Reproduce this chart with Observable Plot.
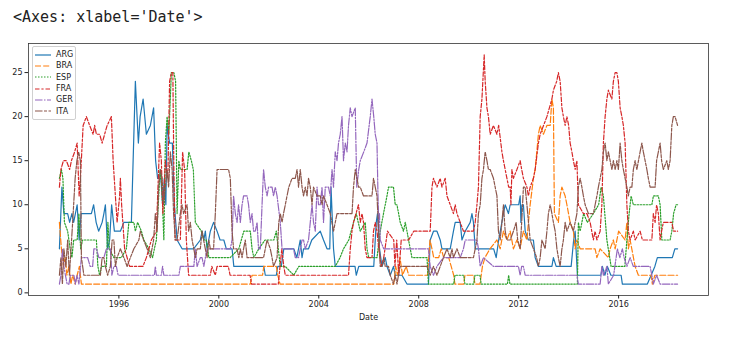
<!DOCTYPE html>
<html>
<head>
<meta charset="utf-8">
<script src="https://cdn.jsdelivr.net/npm/d3@7"></script>
<script src="https://cdn.jsdelivr.net/npm/@observablehq/plot@0.6"></script>
<style>
  html, body { margin: 0; padding: 0; background: #fff; }
  #wrap { position: relative; width: 742px; height: 340px; overflow: hidden; }
  #head { height: 34px; box-sizing: border-box; padding: 8px 0 0 13px; font: 15px "DejaVu Sans Mono", monospace; color: #222; white-space: pre; }
  #legend { position: absolute; left: 32px; top: 46px; width: 42px; background: rgba(255,255,255,0.8); border: 1px solid #d0d0d0; border-radius: 2px; padding: 2px 0 2px 0; font: 8px "DejaVu Sans", sans-serif; color: #222; }
  #legend .row { display: flex; align-items: center; height: 11.3px; }
  #legend svg { margin-left: 2px; margin-right: 5px; }
</style>
</head>
<body>
<div id="wrap">
  <div id="head">&lt;Axes: xlabel='Date'&gt;</div>
  <div id="chart"></div>
  <div id="legend"></div>
</div>
<script>
// ---- data: [decimal year, FIFA rank] ----
const countries = ["ARG", "BRA", "ESP", "FRA", "GER", "ITA"];
const xTicks = [1996, 2000, 2004, 2008, 2012, 2016];
const yTicks = [0, 5, 10, 15, 20, 25];

const ARG = [[1993.62,5],[1993.72,12],[1993.8,9],[1993.95,9],[1994.03,8],[1994.12,9],[1994.19,8],[1994.33,10],[1994.41,6],[1994.49,9],[1994.9,9],[1994.99,10],[1995.09,8],[1995.19,7],[1995.33,8],[1995.4,9],[1995.46,10],[1995.55,5],[1995.63,6],[1995.71,10],[1995.82,7],[1996.06,7],[1996.2,8],[1996.5,8],[1996.66,24],[1996.78,17],[1996.85,20],[1996.97,22],[1997.1,18],[1997.26,19],[1997.39,21],[1997.47,15],[1997.55,13],[1997.68,13],[1997.75,10],[1997.82,13],[1997.88,10],[1997.93,19],[1998.03,17],[1998.14,17],[1998.22,10],[1998.33,6],[1998.53,5],[1998.99,5],[1999.26,6],[1999.33,7],[1999.4,6],[1999.46,7],[1999.53,5],[1999.66,7],[1999.79,8],[1999.93,7],[2000.05,6],[2000.2,6],[2000.3,5],[2000.53,5],[2000.6,3],[2001.8,3],[2001.86,2],[2002.3,2],[2002.36,3],[2002.5,3],[2002.6,5],[2003.0,5],[2003.12,4],[2003.19,5],[2003.26,6],[2003.33,4],[2003.39,5],[2003.59,5],[2003.72,6],[2004.06,7],[2004.19,6],[2004.33,5],[2004.44,5],[2004.49,12],[2004.59,5],[2004.66,3],[2005.45,3],[2005.5,2],[2005.6,3],[2006.2,3],[2006.3,8],[2006.35,9],[2006.43,5],[2006.53,3],[2006.66,4],[2006.73,3],[2006.86,2],[2006.99,3],[2007.06,2],[2007.33,2],[2007.53,1],[2008.39,1],[2008.46,6],[2008.59,7],[2008.73,7],[2008.86,6],[2008.93,5],[2009.26,5],[2009.39,7],[2009.46,8],[2009.66,8],[2009.73,6],[2009.86,7],[2010.06,8],[2010.13,9],[2010.19,8],[2010.26,5],[2011.0,5],[2011.1,4],[2011.2,6],[2011.39,9],[2011.46,10],[2011.59,9],[2011.66,10],[2012.0,10],[2012.06,11],[2012.09,8],[2012.13,10],[2012.19,10],[2012.26,7],[2012.39,6],[2012.59,6],[2012.66,4],[2012.79,3],[2013.33,3],[2013.39,4],[2013.5,3],[2014.1,3],[2014.2,6],[2014.26,7],[2014.35,2],[2015.29,2],[2015.35,3],[2015.45,2],[2015.55,3],[2015.69,2],[2016.1,2],[2016.15,1],[2017.15,1],[2017.3,2],[2017.45,3],[2017.55,4],[2018.15,4],[2018.25,5],[2018.36,5]];

const BRA = [[1993.62,8],[1993.7,5],[1993.78,3],[1993.85,4],[1993.92,2],[1994.0,3],[1994.08,1],[1994.15,2],[1994.25,1],[1994.33,2],[1994.42,3],[1994.5,1],[2001.26,1],[2001.33,2],[2001.75,2],[2001.8,3],[2002.3,3],[2002.36,2],[2002.45,1],[2007.0,1],[2007.08,3],[2007.15,2],[2007.25,4],[2007.35,2],[2007.5,3],[2007.6,2],[2008.35,2],[2008.45,6],[2008.53,5],[2008.6,4],[2008.8,4],[2008.9,5],[2009.0,4],[2009.2,4],[2009.3,3],[2009.4,2],[2009.45,1],[2009.8,1],[2009.85,2],[2010.2,2],[2010.25,1],[2010.45,1],[2010.55,3],[2010.65,4],[2010.85,5],[2011.13,6],[2011.26,5],[2011.39,7],[2011.53,6],[2011.66,7],[2011.79,5],[2011.93,6],[2012.06,5],[2012.12,6],[2012.19,7],[2012.33,6],[2012.39,8],[2012.46,10],[2012.59,13],[2012.66,14],[2012.79,18],[2012.86,19],[2012.99,18],[2013.13,19],[2013.26,19],[2013.33,22],[2013.39,21],[2013.43,9],[2013.59,8],[2013.66,11],[2013.73,12],[2013.86,11],[2013.93,10],[2014.06,8],[2014.19,7],[2014.26,5],[2014.33,6],[2014.46,5],[2015.06,5],[2015.13,4],[2015.26,5],[2015.59,4],[2015.66,5],[2015.79,6],[2015.86,5],[2016.0,7],[2016.26,6],[2016.33,8],[2016.39,5],[2016.46,6],[2016.66,3],[2016.79,2],[2017.3,2],[2017.35,1],[2017.45,2],[2018.36,2]];

const ESP = [[1993.62,13],[1993.7,14],[1993.76,13],[1993.82,8],[1993.95,7],[1994.05,5],[1994.12,4],[1994.19,6],[1994.33,6],[1994.4,9],[1994.47,5],[1994.55,6],[1995.1,6],[1995.16,3],[1995.23,2],[1995.3,3],[1995.5,3],[1995.56,8],[1995.62,5],[1995.8,4],[1996.1,4],[1996.3,5],[1996.4,8],[1996.6,8],[1996.66,7],[1996.75,8],[1996.9,7],[1997.0,6],[1997.2,5],[1997.35,4],[1997.42,5],[1997.5,6],[1997.65,14],[1997.72,12],[1997.8,6],[1997.86,17],[1997.93,20],[1998.0,18],[1998.1,25],[1998.2,25],[1998.27,24],[1998.33,9],[1998.4,15],[1998.46,14],[1998.73,14],[1998.8,16],[1998.9,15],[1998.98,14],[1999.06,8],[1999.3,7],[1999.4,6],[1999.5,6],[1999.6,4],[2000.45,4],[2000.8,5],[2000.9,6],[2001.0,7],[2001.26,7],[2001.33,5],[2001.4,4],[2001.6,5],[2001.85,6],[2002.2,6],[2002.3,7],[2002.46,3],[2002.66,3],[2003.0,2],[2003.2,3],[2004.66,3],[2004.85,4],[2004.99,5],[2005.2,6],[2005.39,8],[2005.5,9],[2005.66,7],[2005.86,8],[2005.93,5],[2006.0,4],[2006.33,4],[2006.46,7],[2006.59,9],[2006.73,11],[2006.79,12],[2006.99,12],[2007.06,10],[2007.13,10],[2007.26,8],[2007.39,7],[2007.46,8],[2007.53,7],[2007.66,5],[2007.73,4],[2008.33,4],[2008.39,1],[2009.4,1],[2009.45,2],[2009.8,2],[2009.85,1],[2010.2,1],[2010.25,2],[2010.45,2],[2010.5,1],[2011.55,1],[2011.6,2],[2011.65,1],[2014.35,1],[2014.39,8],[2014.46,7],[2014.6,9],[2014.75,8],[2014.99,9],[2015.2,10],[2015.3,12],[2015.39,11],[2015.53,6],[2015.7,3],[2016.25,3],[2016.33,6],[2016.42,9],[2016.5,11],[2016.59,10],[2017.33,10],[2017.39,11],[2017.59,11],[2017.66,10],[2017.73,6],[2018.06,6],[2018.13,7],[2018.2,9],[2018.3,10],[2018.36,10]];

const FRA = [[1993.62,12],[1993.68,14],[1993.78,15],[1993.9,15],[1994.03,14],[1994.1,15],[1994.23,16],[1994.33,17],[1994.41,11],[1994.46,13],[1994.57,19],[1994.7,20],[1994.83,19],[1994.97,18],[1995.03,19],[1995.1,18],[1995.23,18],[1995.33,17],[1995.43,18],[1995.53,19],[1995.7,20],[1995.77,15],[1995.86,11],[1995.93,8],[1996.03,11],[1996.06,13],[1996.11,10],[1996.23,5],[1996.43,3],[1996.96,3],[1997.1,4],[1997.3,6],[1997.5,7],[1997.63,17],[1997.7,15],[1997.76,9],[1997.86,15],[1997.9,14],[1997.96,13],[1998.03,24],[1998.1,25],[1998.16,25],[1998.2,14],[1998.25,6],[1998.46,6],[1998.55,16],[1998.63,14],[1998.7,6],[1998.79,2],[1999.66,2],[1999.72,3],[1999.86,2],[1999.93,3],[2000.38,3],[2000.45,2],[2001.25,2],[2001.31,1],[2002.38,1],[2002.45,3],[2002.52,5],[2002.6,3],[2002.66,2],[2005.19,2],[2005.26,5],[2005.33,7],[2005.39,8],[2005.59,10],[2005.66,8],[2005.73,9],[2005.79,8],[2005.86,5],[2005.93,4],[2006.13,4],[2006.19,7],[2006.26,8],[2006.33,7],[2006.4,5],[2006.5,3],[2006.6,4],[2006.75,7],[2007.0,6],[2007.05,3],[2007.12,6],[2007.2,2],[2007.3,6],[2007.6,6],[2007.8,7],[2008.46,7],[2008.53,12],[2008.59,13],[2008.73,12],[2008.86,13],[2008.93,12],[2009.06,13],[2009.13,11],[2009.26,10],[2009.39,9],[2009.46,10],[2009.53,9],[2009.66,8],[2009.79,7],[2010.19,7],[2010.26,8],[2010.33,10],[2010.39,12],[2010.46,20],[2010.53,22],[2010.62,27],[2010.66,24],[2010.73,21],[2010.79,20],[2010.86,18],[2010.99,19],[2011.13,18],[2011.2,19],[2011.33,16],[2011.39,15],[2011.46,14],[2011.53,13],[2011.6,12],[2011.66,12],[2011.69,10],[2011.73,14],[2011.79,13],[2011.93,14],[2012.06,15],[2012.12,14],[2012.19,13],[2012.33,12],[2012.39,11],[2012.46,12],[2012.59,13],[2012.66,14],[2012.79,17],[2012.86,18],[2013.13,20],[2013.33,22],[2013.39,23],[2013.52,24],[2013.59,25],[2013.66,24],[2013.73,21],[2013.79,20],[2013.86,19],[2013.93,20],[2014.0,19],[2014.06,17],[2014.13,16],[2014.19,15],[2014.26,14],[2014.33,15],[2014.39,10],[2014.59,9],[2014.73,9],[2014.86,8],[2014.99,6],[2015.06,7],[2015.13,6],[2015.26,7],[2015.33,10],[2015.39,17],[2015.46,20],[2015.53,22],[2015.59,23],[2015.73,22],[2015.79,24],[2015.86,25],[2015.93,25],[2015.99,24],[2016.06,21],[2016.13,20],[2016.19,19],[2016.26,17],[2016.33,10],[2016.39,7],[2016.46,6],[2016.59,7],[2016.66,6],[2016.86,7],[2016.95,6],[2017.33,6],[2017.39,9],[2017.46,8],[2017.52,10],[2017.59,9],[2017.66,6],[2017.72,7],[2017.79,8],[2018.13,8],[2018.2,7],[2018.36,7]];

const GER = [[1993.62,1],[1993.68,2],[1993.74,5],[1993.8,3],[1993.86,2],[1993.93,1],[1994.0,1],[1994.06,2],[1994.2,2],[1994.26,1],[1994.33,2],[1994.4,1],[1994.5,4],[1994.75,4],[1994.85,3],[1994.95,3],[1995.0,5],[1995.1,5],[1995.2,4],[1995.4,4],[1995.5,5],[1995.66,5],[1995.72,2],[1995.8,3],[1995.9,3],[1995.97,2],[1997.42,2],[1997.46,3],[1997.5,2],[1997.7,2],[1997.75,3],[1997.8,2],[1998.4,2],[1998.46,3],[1999.0,3],[1999.06,5],[1999.13,3],[1999.26,4],[1999.33,4],[1999.4,3],[1999.46,4],[1999.53,5],[2000.46,5],[2000.53,6],[2000.59,11],[2000.66,9],[2000.73,8],[2000.79,10],[2000.86,8],[2000.93,10],[2000.99,11],[2001.13,11],[2001.19,10],[2001.26,8],[2001.33,9],[2001.39,7],[2001.46,7],[2001.53,8],[2001.59,5],[2001.66,5],[2001.73,10],[2001.79,14],[2001.86,12],[2001.93,11],[2001.99,12],[2002.13,12],[2002.19,11],[2002.26,12],[2002.33,11],[2002.46,8],[2002.53,5],[2002.99,5],[2003.06,4],[2003.19,4],[2003.33,6],[2003.39,6],[2003.46,5],[2003.59,6],[2003.66,8],[2003.73,10],[2003.79,8],[2003.86,7],[2003.93,12],[2003.99,10],[2004.06,10],[2004.13,12],[2004.19,8],[2004.26,12],[2004.39,12],[2004.46,11],[2004.53,14],[2004.59,12],[2004.66,16],[2004.73,15],[2004.79,17],[2004.86,18],[2004.93,20],[2004.99,15],[2005.06,17],[2005.13,16],[2005.19,19],[2005.26,21],[2005.33,20],[2005.46,21],[2005.52,12],[2005.6,14],[2005.66,15],[2005.8,16],[2005.93,17],[2006.06,20],[2006.13,22],[2006.2,20],[2006.26,18],[2006.33,17],[2006.37,11],[2006.4,8],[2006.43,9],[2006.46,6],[2006.6,5],[2008.39,5],[2008.46,3],[2008.59,2],[2008.73,3],[2008.99,4],[2009.66,4],[2009.79,5],[2009.86,6],[2010.33,6],[2010.39,5],[2010.46,3],[2010.59,4],[2010.99,3],[2011.99,3],[2012.06,2],[2012.12,3],[2012.19,3],[2012.26,2],[2014.33,2],[2014.39,1],[2015.26,1],[2015.33,3],[2015.39,2],[2015.53,3],[2015.59,1],[2015.8,2],[2015.9,4],[2015.95,5],[2016.05,4],[2016.15,5],[2016.22,4],[2016.33,3],[2016.46,4],[2016.59,3],[2017.26,3],[2017.33,2],[2017.39,1],[2017.52,2],[2017.66,1],[2018.36,1]];

const ITA = [[1993.62,2],[1993.68,4],[1993.74,1],[1993.8,5],[1993.88,3],[1993.95,6],[1994.02,2],[1994.15,8],[1994.25,13],[1994.32,15],[1994.39,16],[1994.46,15],[1994.5,4],[1994.6,2],[1995.26,2],[1995.33,4],[1995.4,4],[1995.46,3],[1995.55,2],[1995.66,3],[1995.73,6],[1995.8,6],[1995.86,3],[1995.93,4],[1996.06,5],[1996.2,4],[1996.33,3],[1996.46,4],[1996.6,5],[1996.8,6],[1996.86,7],[1996.99,6],[1997.13,5],[1997.26,4],[1997.39,6],[1997.46,9],[1997.53,7],[1997.59,12],[1997.66,14],[1997.73,13],[1997.79,10],[1997.93,14],[1997.99,12],[1998.06,16],[1998.13,14],[1998.19,9],[1998.26,6],[1998.33,6],[1998.46,9],[1998.53,10],[1998.59,9],[1998.73,10],[1998.79,7],[1998.86,8],[1998.93,6],[1999.0,5],[1999.06,4],[1999.13,5],[1999.26,5],[1999.33,7],[1999.39,6],[1999.46,5],[1999.53,4],[1999.6,6],[1999.66,5],[1999.79,5],[1999.86,9],[1999.93,14],[2000.39,14],[2000.46,13],[2000.53,7],[2000.59,5],[2000.73,5],[2000.8,4],[2000.86,5],[2000.93,4],[2000.99,5],[2001.06,6],[2001.13,4],[2001.79,4],[2001.86,5],[2001.93,6],[2002.06,5],[2002.13,4],[2002.19,3],[2002.33,4],[2002.4,8],[2002.46,9],[2002.53,8],[2002.59,9],[2002.66,10],[2002.73,11],[2002.8,12],[2002.93,13],[2003.06,13],[2003.13,14],[2003.19,12],[2003.26,14],[2003.33,12],[2003.39,11],[2003.46,12],[2003.53,11],[2003.59,13],[2003.66,12],[2003.73,10],[2003.79,12],[2003.93,11],[2004.06,11],[2004.13,10],[2004.19,11],[2004.33,10],[2004.46,9],[2004.59,7],[2004.73,9],[2005.33,9],[2005.39,12],[2005.46,14],[2005.53,13],[2005.59,12],[2005.66,12],[2005.79,11],[2006.13,11],[2006.19,13],[2006.26,12],[2006.33,11],[2006.38,8],[2006.43,5],[2006.46,3],[2006.53,3],[2006.6,4],[2006.66,3],[2006.79,3],[2006.86,2],[2006.99,1],[2007.06,2],[2007.13,1],[2007.19,2],[2007.26,3],[2008.33,3],[2008.46,2],[2008.59,3],[2008.73,2],[2008.86,3],[2008.99,4],[2009.13,5],[2009.26,4],[2009.33,5],[2009.39,4],[2009.53,5],[2009.66,4],[2010.19,4],[2010.26,5],[2010.33,6],[2010.39,9],[2010.46,10],[2010.53,13],[2010.59,14],[2010.66,16],[2010.73,15],[2010.79,14],[2010.86,14],[2010.99,13],[2011.06,12],[2011.13,11],[2011.19,7],[2011.26,6],[2011.33,8],[2011.39,10],[2011.46,7],[2011.53,6],[2011.66,6],[2011.79,7],[2011.9,8],[2011.96,6],[2012.06,5],[2012.12,8],[2012.19,12],[2012.26,12],[2012.33,10],[2012.46,6],[2012.59,5],[2012.72,4],[2012.79,3],[2012.86,4],[2012.93,6],[2013.06,5],[2013.13,7],[2013.19,9],[2013.26,10],[2013.33,9],[2013.39,8],[2013.46,7],[2013.53,5],[2013.59,4],[2013.66,3],[2013.73,5],[2013.79,6],[2013.86,8],[2013.93,7],[2014.06,8],[2014.19,7],[2014.26,8],[2014.33,9],[2014.39,12],[2014.46,13],[2014.53,12],[2014.59,11],[2014.66,10],[2014.79,9],[2014.99,9],[2015.06,10],[2015.13,11],[2015.19,12],[2015.26,13],[2015.33,14],[2015.39,16],[2015.46,17],[2015.53,15],[2015.59,16],[2015.66,15],[2015.73,14],[2015.79,15],[2015.86,14],[2015.93,15],[2015.99,14],[2016.06,17],[2016.13,15],[2016.19,14],[2016.33,12],[2016.39,11],[2016.46,12],[2016.53,12],[2016.59,14],[2016.66,15],[2016.73,14],[2016.86,16],[2016.93,17],[2016.99,16],[2017.06,15],[2017.13,14],[2017.19,13],[2017.26,12],[2017.46,12],[2017.52,15],[2017.59,16],[2017.66,17],[2017.72,15],[2017.79,14],[2017.93,15],[2017.99,14],[2018.06,15],[2018.13,19],[2018.19,20],[2018.26,20],[2018.36,19]];

// ---- styles (matplotlib tab10 + seaborn dash cycle) ----
const seriesList = [ARG, BRA, ESP, FRA, GER, ITA];
const colors = ["#1f77b4", "#ff7f0e", "#2ca02c", "#d62728", "#9467bd", "#8c564b"];
const dashes = [null, "6,2.2", "1.5,1.5", "4.5,1.9,2.2,1.9", "7.5,1.5,1.5,1.5", "7.5,1.5,3,1.5,3,1.5"];

const rows = countries.flatMap((c, i) => seriesList[i].map(([year, rank]) => ({country: c, year, rank})));

// matplotlib-like 5% margins
const [x0, x1] = d3.extent(rows, d => d.year);
const [y0, y1] = d3.extent(rows, d => d.rank);
const xPad = (x1 - x0) * 0.05, yPad = (y1 - y0) * 0.05;

const lineMarks = countries.map((c, i) => Plot.line(rows.filter(d => d.country === c), {
  x: "year", y: "rank", stroke: colors[i], strokeWidth: 1.2,
  strokeDasharray: dashes[i] ?? undefined, strokeLinejoin: "round"
}));

const chart = Plot.plot({
  width: 742,
  height: 306,
  marginLeft: 28,
  marginRight: 34,
  marginTop: 9,
  marginBottom: 45,
  style: {fontFamily: "DejaVu Sans, sans-serif", fontSize: "8px", color: "#222", background: "#fff"},
  x: {domain: [x0 - xPad, x1 + xPad]},
  y: {domain: [y0 - yPad, y1 + yPad]},
  marks: [
    ...lineMarks,
    Plot.frame({stroke: "#333", strokeWidth: 0.8}),
    Plot.axisY({ticks: yTicks, tickSize: 3.5, tickPadding: 2.5, label: null, tickFormat: d => String(d)}),
    Plot.axisX({ticks: xTicks, tickSize: 3.5, tickPadding: 2.5, tickFormat: d => String(d),
      label: "Date", labelAnchor: "center", labelArrow: "none", labelOffset: 24})
  ]
});
document.getElementById("chart").appendChild(chart);

// legend (upper left, like matplotlib)
const legend = document.getElementById("legend");
countries.forEach((c, i) => {
  const row = document.createElement("div");
  row.className = "row";
  row.innerHTML = `<svg width="16" height="6"><line x1="0" y1="3" x2="16" y2="3" stroke="${colors[i]}" stroke-width="1.2" ${dashes[i] ? `stroke-dasharray="${dashes[i]}"` : ""}/></svg><span>${c}</span>`;
  legend.appendChild(row);
});
</script>
</body>
</html>
